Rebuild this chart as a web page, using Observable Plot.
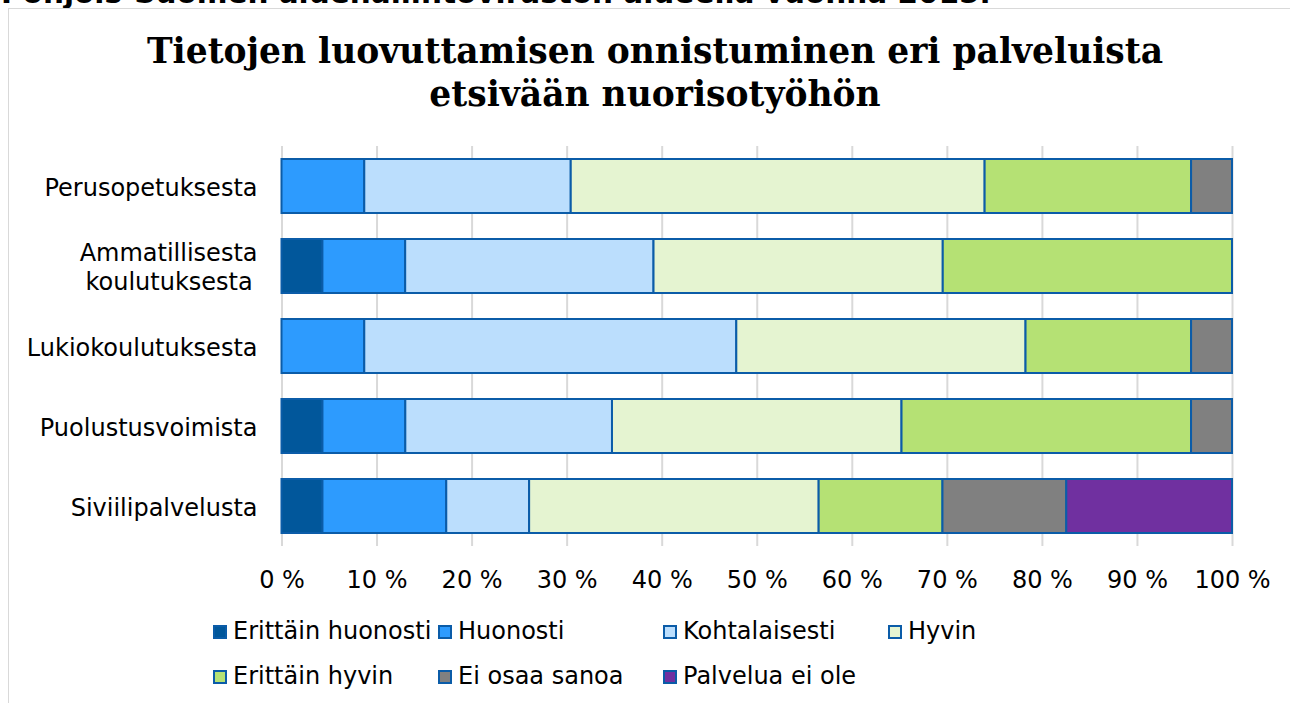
<!DOCTYPE html>
<html>
<head>
<meta charset="utf-8">
<script src="https://cdn.jsdelivr.net/npm/d3@7"></script>
<script src="https://cdn.jsdelivr.net/npm/@observablehq/plot@0.6"></script>
<style>
  html, body { margin: 0; padding: 0; background: #fff; overflow: hidden; }
  #page { position: relative; width: 1290px; height: 703px; overflow: hidden; font-family: "DejaVu Sans", Verdana, sans-serif; }
  #pretitle { position: absolute; left: 1px; top: -21px; font: bold 29.5px "DejaVu Sans", sans-serif; line-height: 29.5px; white-space: nowrap; color: #000; }
  #frame { position: absolute; left: 8px; top: 8px; width: 1300px; height: 720px; border-left: 1.5px solid #d9d9d9; border-top: 1.5px solid #d9d9d9; }
  #title { position: absolute; left: 8px; width: 1294px; top: 30px; text-align: center; font: bold 34.5px "DejaVu Serif", Georgia, serif; line-height: 43px; color: #000; }
  #chart { position: absolute; left: 0; top: 130px; }
  .sw { position: absolute; width: 10px; height: 10px; border: 2px solid #0b5ca8; }
  .lt { position: absolute; font-size: 24px; line-height: 24px; color: #000; white-space: nowrap; }
</style>
</head>
<body>
<div id="page">
  <div id="pretitle">Pohjois-Suomen aluehallintoviraston alueella vuonna 2015.</div>
  <div id="frame"></div>
  <div id="title">Tietojen luovuttamisen onnistuminen eri palveluista<br>etsivään nuorisotyöhön</div>
  <div id="chart"></div>
  <div id="legend"></div>
</div>
<script>
const categories = ["Perusopetuksesta", "Ammatillisesta\nkoulutuksesta\u2009", "Lukiokoulutuksesta", "Puolustusvoimista", "Siviilipalvelusta"];
const responses = ["Erittäin huonosti", "Huonosti", "Kohtalaisesti", "Hyvin", "Erittäin hyvin", "Ei osaa sanoa", "Palvelua ei ole"];
const colors = ["#01579b", "#2d9bfe", "#bbdefd", "#e5f4d1", "#b5e174", "#808080", "#7030a0"];

// percentage per response, one array per category (order = responses)
const perusopetus   = [0,   8.7, 21.7, 43.5, 21.7, 4.3,  0];
const ammatillinen  = [4.3, 8.7, 26.1, 30.4, 30.4, 0,    0];
const lukio         = [0,   8.7, 39.1, 30.4, 17.4, 4.3,  0];
const puolustus     = [4.3, 8.7, 21.7, 30.4, 30.4, 4.3,  0];
const siviili       = [4.3, 13.0, 8.7, 30.4, 13.0, 13.0, 17.4];
const seriesByCategory = [perusopetus, ammatillinen, lukio, puolustus, siviili];

const tickLabels = [0, 10, 20, 30, 40, 50, 60, 70, 80, 90, 100];

const data = [];
categories.forEach((c, i) => {
  responses.forEach((r, j) => {
    data.push({category: c, response: r, value: seriesByCategory[i][j]});
  });
});

const tickFracs = tickLabels.map(t => t / 100);
const chart = Plot.plot({
  width: 1290,
  height: 470,
  marginLeft: 281.5,
  marginRight: 58,
  marginTop: 16,
  marginBottom: 54,
  style: {fontFamily: "'DejaVu Sans', Verdana, sans-serif", fontSize: "24px", color: "#000", background: "transparent"},
  x: {domain: [0, 1], label: null, axis: null},
  y: {domain: categories, paddingInner: 0.325, paddingOuter: 0.1625, label: null, axis: null},
  color: {domain: responses, range: colors},
  marks: [
    Plot.ruleX(tickFracs, {stroke: "#d9d9d9", strokeWidth: 2}),
    Plot.barX(data, Plot.stackX({
      x: "value", y: "category", fill: "response", order: responses, offset: "normalize",
      stroke: "#0b5ca8", strokeWidth: 2
    })),
    Plot.axisX({ticks: tickFracs, tickFormat: d => Math.round(d * 100) + " %", tickSize: 0, tickPadding: 24, fontSize: 24, label: null, fill: "#000"}),
    Plot.axisY({tickSize: 0, tickPadding: 24.5, fontSize: 24, label: null, lineHeight: 1.17, fill: "#000"})
  ]
});
document.getElementById("chart").appendChild(chart);

// legend
const legendPos = [
  [213, 625], [438, 625], [663, 625], [888, 625],
  [213, 670], [438, 670], [663, 670]
];
const legend = document.getElementById("legend");
responses.forEach((r, i) => {
  const [lx, ly] = legendPos[i];
  const sw = document.createElement("div");
  sw.className = "sw";
  sw.style.left = lx + "px";
  sw.style.top = ly + "px";
  sw.style.background = colors[i];
  legend.appendChild(sw);
  const t = document.createElement("div");
  t.className = "lt";
  t.style.left = (lx + 20) + "px";
  t.style.top = (ly - 6) + "px";
  t.textContent = r;
  legend.appendChild(t);
});
</script>
</body>
</html>
